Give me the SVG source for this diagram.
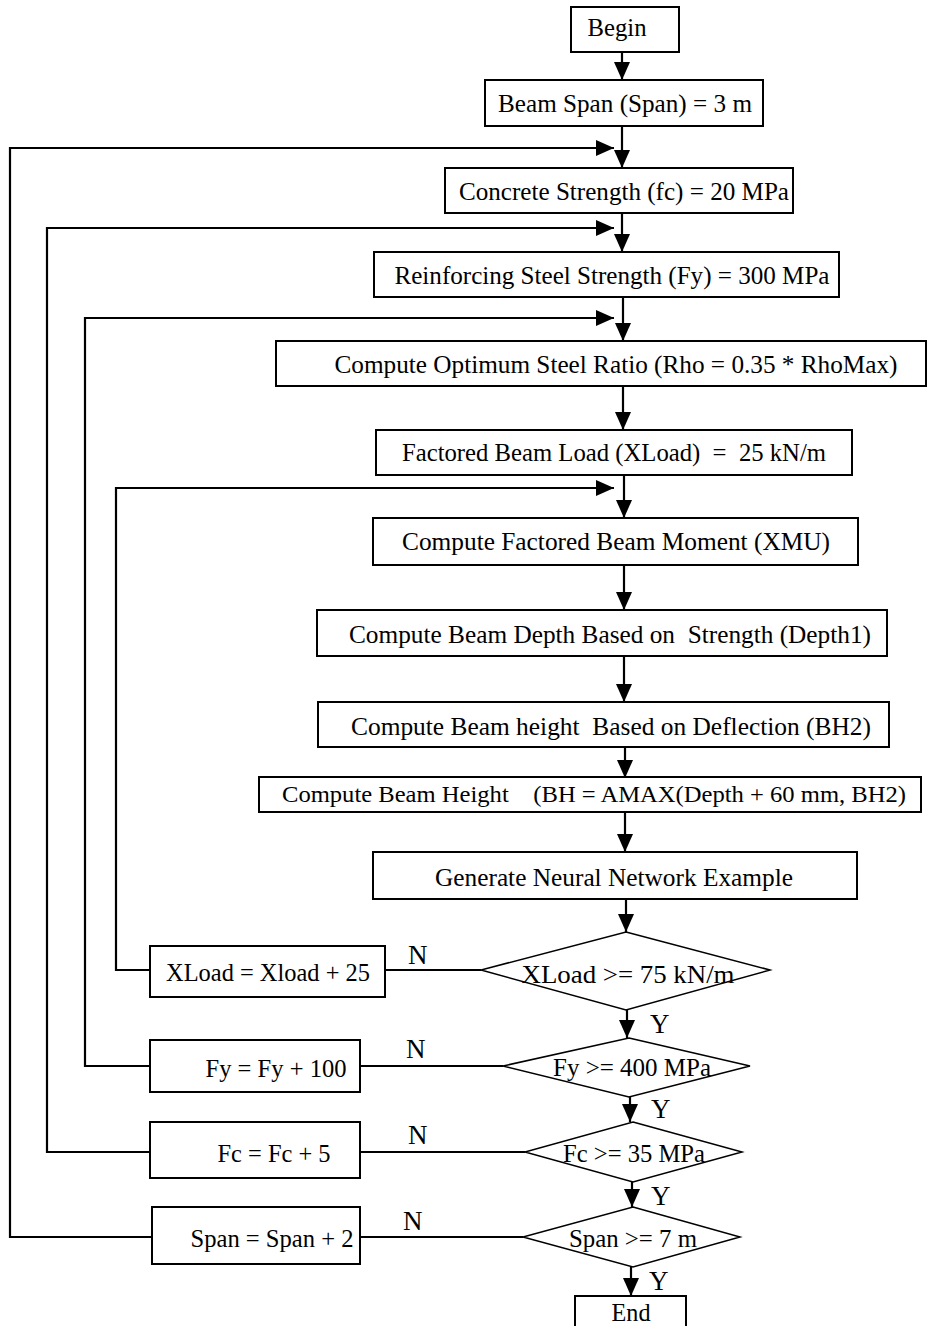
<svg xmlns="http://www.w3.org/2000/svg" width="934" height="1326" viewBox="0 0 934 1326">
  <style>
    .box { fill: #fff; stroke: #000; stroke-width: 2; }
    .dec { fill: #fff; stroke: #000; stroke-width: 1.5; }
    .ln { fill: none; stroke: #000; stroke-width: 2.2; }
    .t { font-family: "Liberation Serif", "Times New Roman", serif; font-size: 26px; fill: #000; text-anchor: middle; }
    .t.sm { font-size: 23px; }
    .yn { font-family: "Liberation Serif", "Times New Roman", serif; font-size: 27px; fill: #000; }
  </style>
  <defs>
    <marker id="ah" viewBox="0 0 18 16" refX="18" refY="8" markerWidth="18" markerHeight="16" markerUnits="userSpaceOnUse" orient="auto">
      <path d="M0,0 L18,8 L0,16 Z" fill="#000"/>
    </marker>
  </defs>

  <rect width="934" height="1326" fill="#fff"/>

  <!-- connectors -->
  <g id="connectors">
    <line class="ln" x1="622" y1="52" x2="622" y2="80" marker-end="url(#ah)"/>
    <line class="ln" x1="622" y1="126" x2="622" y2="168" marker-end="url(#ah)"/>
    <line class="ln" x1="622" y1="213" x2="622" y2="252" marker-end="url(#ah)"/>
    <line class="ln" x1="623" y1="297" x2="623" y2="341" marker-end="url(#ah)"/>
    <line class="ln" x1="623" y1="386" x2="623" y2="430" marker-end="url(#ah)"/>
    <line class="ln" x1="624" y1="475" x2="624" y2="518" marker-end="url(#ah)"/>
    <line class="ln" x1="624" y1="565" x2="624" y2="610" marker-end="url(#ah)"/>
    <line class="ln" x1="624" y1="656" x2="624" y2="702" marker-end="url(#ah)"/>
    <line class="ln" x1="625" y1="747" x2="625" y2="778" marker-end="url(#ah)"/>
    <line class="ln" x1="625" y1="811" x2="625" y2="852" marker-end="url(#ah)"/>
    <line class="ln" x1="626" y1="899" x2="626" y2="932" marker-end="url(#ah)"/>
    <line class="ln" x1="627" y1="1010" x2="627" y2="1038" marker-end="url(#ah)"/>
    <line class="ln" x1="630" y1="1097" x2="630" y2="1122" marker-end="url(#ah)"/>
    <line class="ln" x1="632" y1="1182" x2="632" y2="1207" marker-end="url(#ah)"/>
    <line class="ln" x1="631" y1="1267" x2="631" y2="1296" marker-end="url(#ah)"/>

    <!-- N branches -->
    <line class="ln" x1="481" y1="970" x2="385" y2="970"/>
    <line class="ln" x1="503" y1="1066" x2="360" y2="1066"/>
    <line class="ln" x1="525" y1="1152" x2="360" y2="1152"/>
    <line class="ln" x1="523" y1="1237" x2="360" y2="1237"/>

    <!-- loop-backs -->
    <polyline class="ln" points="150,970 116,970 116,488 614,488" marker-end="url(#ah)"/>
    <polyline class="ln" points="150,1066 85,1066 85,318 614,318" marker-end="url(#ah)"/>
    <polyline class="ln" points="150,1152 47,1152 47,228 614,228" marker-end="url(#ah)"/>
    <polyline class="ln" points="152,1237 10,1237 10,148 614,148" marker-end="url(#ah)"/>
  </g>

  <g id="begin">
    <rect class="box" x="571" y="7" width="108" height="45"/>
    <text class="t" x="617" y="36" textLength="59" lengthAdjust="spacingAndGlyphs">Begin</text>
  </g>
  <g id="span">
    <rect class="box" x="485" y="80" width="278" height="46"/>
    <text class="t" x="625" y="112" textLength="254" lengthAdjust="spacingAndGlyphs">Beam Span (Span) = 3 m</text>
  </g>
  <g id="fc">
    <rect class="box" x="445" y="168" width="348" height="45"/>
    <text class="t" x="624" y="200" textLength="330" lengthAdjust="spacingAndGlyphs">Concrete Strength (fc) = 20 MPa</text>
  </g>
  <g id="fy">
    <rect class="box" x="374" y="252" width="465" height="45"/>
    <text class="t" x="612" y="284" textLength="435" lengthAdjust="spacingAndGlyphs">Reinforcing Steel Strength (Fy) = 300 MPa</text>
  </g>
  <g id="rho">
    <rect class="box" x="276" y="341" width="650" height="45"/>
    <text class="t" x="616" y="373" textLength="563" lengthAdjust="spacingAndGlyphs">Compute Optimum Steel Ratio (Rho = 0.35 * RhoMax)</text>
  </g>
  <g id="xload">
    <rect class="box" x="376" y="430" width="476" height="45"/>
    <text class="t" x="614" y="461" textLength="424" lengthAdjust="spacingAndGlyphs" xml:space="preserve">Factored Beam Load (XLoad)  =  25 kN/m</text>
  </g>
  <g id="xmu">
    <rect class="box" x="373" y="518" width="485" height="47"/>
    <text class="t" x="616" y="550" textLength="428" lengthAdjust="spacingAndGlyphs">Compute Factored Beam Moment (XMU)</text>
  </g>
  <g id="depth1">
    <rect class="box" x="317" y="610" width="570" height="46"/>
    <text class="t" x="610" y="643" textLength="522" lengthAdjust="spacingAndGlyphs" xml:space="preserve">Compute Beam Depth Based on  Strength (Depth1)</text>
  </g>
  <g id="bh2">
    <rect class="box" x="318" y="702" width="571" height="45"/>
    <text class="t" x="611" y="735" textLength="520" lengthAdjust="spacingAndGlyphs" xml:space="preserve">Compute Beam height  Based on Deflection (BH2)</text>
  </g>
  <g id="bh">
    <rect class="box" x="259" y="777" width="662" height="35"/>
    <text class="t sm" x="594" y="802" textLength="624" lengthAdjust="spacingAndGlyphs" xml:space="preserve">Compute Beam Height    (BH = AMAX(Depth + 60 mm, BH2)</text>
  </g>
  <g id="example">
    <rect class="box" x="373" y="852" width="484" height="47"/>
    <text class="t" x="614" y="886" textLength="358" lengthAdjust="spacingAndGlyphs">Generate Neural Network Example</text>
  </g>

  <g id="d-xload">
    <polygon class="dec" points="626,932 770,970 626,1010 481,970"/>
    <text class="t" x="628" y="983" textLength="213" lengthAdjust="spacingAndGlyphs">XLoad &gt;= 75 kN/m</text>
  </g>
  <g id="inc-xload">
    <rect class="box" x="150" y="946" width="235" height="51"/>
    <text class="t" x="268" y="981" textLength="204" lengthAdjust="spacingAndGlyphs">XLoad = Xload + 25</text>
  </g>
  <g id="d-fy">
    <polygon class="dec" points="629,1038 750,1066 629,1097 503,1066"/>
    <text class="t" x="632" y="1076" textLength="158" lengthAdjust="spacingAndGlyphs">Fy &gt;= 400 MPa</text>
  </g>
  <g id="inc-fy">
    <rect class="box" x="150" y="1040" width="210" height="52"/>
    <text class="t" x="276" y="1077" textLength="141" lengthAdjust="spacingAndGlyphs">Fy = Fy + 100</text>
  </g>
  <g id="d-fc">
    <polygon class="dec" points="633,1122 742,1152 633,1182 525,1152"/>
    <text class="t" x="634" y="1162" textLength="142" lengthAdjust="spacingAndGlyphs">Fc &gt;= 35 MPa</text>
  </g>
  <g id="inc-fc">
    <rect class="box" x="150" y="1122" width="210" height="56"/>
    <text class="t" x="274" y="1162" textLength="113" lengthAdjust="spacingAndGlyphs">Fc = Fc + 5</text>
  </g>
  <g id="d-span">
    <polygon class="dec" points="633,1207 740,1237 633,1267 523,1237"/>
    <text class="t" x="633" y="1247" textLength="128" lengthAdjust="spacingAndGlyphs">Span &gt;= 7 m</text>
  </g>
  <g id="inc-span">
    <rect class="box" x="152" y="1207" width="208" height="57"/>
    <text class="t" x="272" y="1247" textLength="163" lengthAdjust="spacingAndGlyphs">Span = Span + 2</text>
  </g>
  <g id="end">
    <rect class="box" x="575" y="1296" width="111" height="34"/>
    <text class="t" x="631" y="1321" textLength="39" lengthAdjust="spacingAndGlyphs">End</text>
  </g>

  <g id="labels">
    <text class="yn" x="408" y="964">N</text>
    <text class="yn" x="406" y="1058">N</text>
    <text class="yn" x="408" y="1144">N</text>
    <text class="yn" x="403" y="1230">N</text>
    <text class="yn" x="650" y="1033">Y</text>
    <text class="yn" x="651" y="1118">Y</text>
    <text class="yn" x="651" y="1205">Y</text>
    <text class="yn" x="649" y="1290">Y</text>
  </g>
</svg>
